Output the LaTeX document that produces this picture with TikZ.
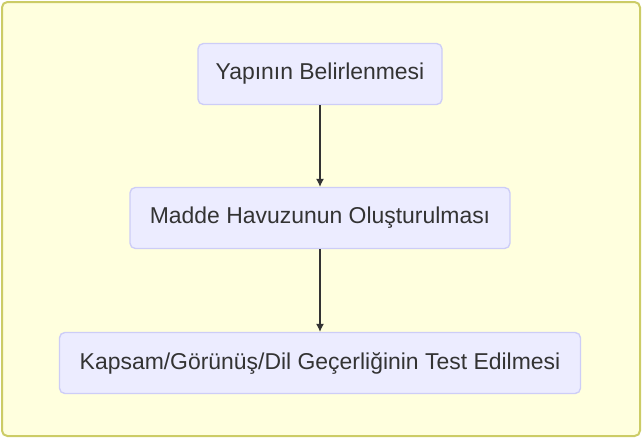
\documentclass[tikz,border=0pt]{standalone}
\usepackage{fontspec}
\setmainfont{Liberation Sans}
\usetikzlibrary{arrows.meta}
\definecolor{clusterfill}{HTML}{FFFFDE}
\definecolor{clusterline}{HTML}{CCCC66}
\definecolor{stepfill}{HTML}{ECECFF}
\definecolor{stepline}{HTML}{CDCDF7}
\definecolor{flowline}{HTML}{333333}
\tikzset{
  stepbox/.style={draw=stepline, fill=stepfill, line width=1pt, rounded corners=4pt,
    minimum height=45.75pt, text=flowline, font=\fontsize{17.2}{20}\selectfont},
  flowarrow/.style={draw=flowline, line width=0.8pt, -{Latex[length=6pt,width=6pt]}}
}
\begin{document}
\begin{tikzpicture}[x=0.75pt,y=0.75pt,yscale=-1,xscale=1]
\useasboundingbox (0,0) rectangle (643,439);

%Shape: Rectangle [cluster]
\draw[draw=clusterline, fill=clusterfill, line width=1.5pt, rounded corners=4pt] (2,2) rectangle (640,436);

% Text Node
\node[stepbox, minimum width=183pt] (yapi) at (320,74) {Yapının Belirlenmesi};
% Text Node
\node[stepbox, minimum width=285pt] (havuz) at (320,218) {Madde Havuzunun Oluşturulması};
% Text Node
\node[stepbox, minimum width=390.75pt] (test) at (320,363) {Kapsam/Görünüş/Dil Geçerliğinin Test Edilmesi};

%Straight Lines
\draw[flowarrow] (yapi) -- (havuz);
%Straight Lines
\draw[flowarrow] (havuz) -- (test);

\end{tikzpicture}
\end{document}
